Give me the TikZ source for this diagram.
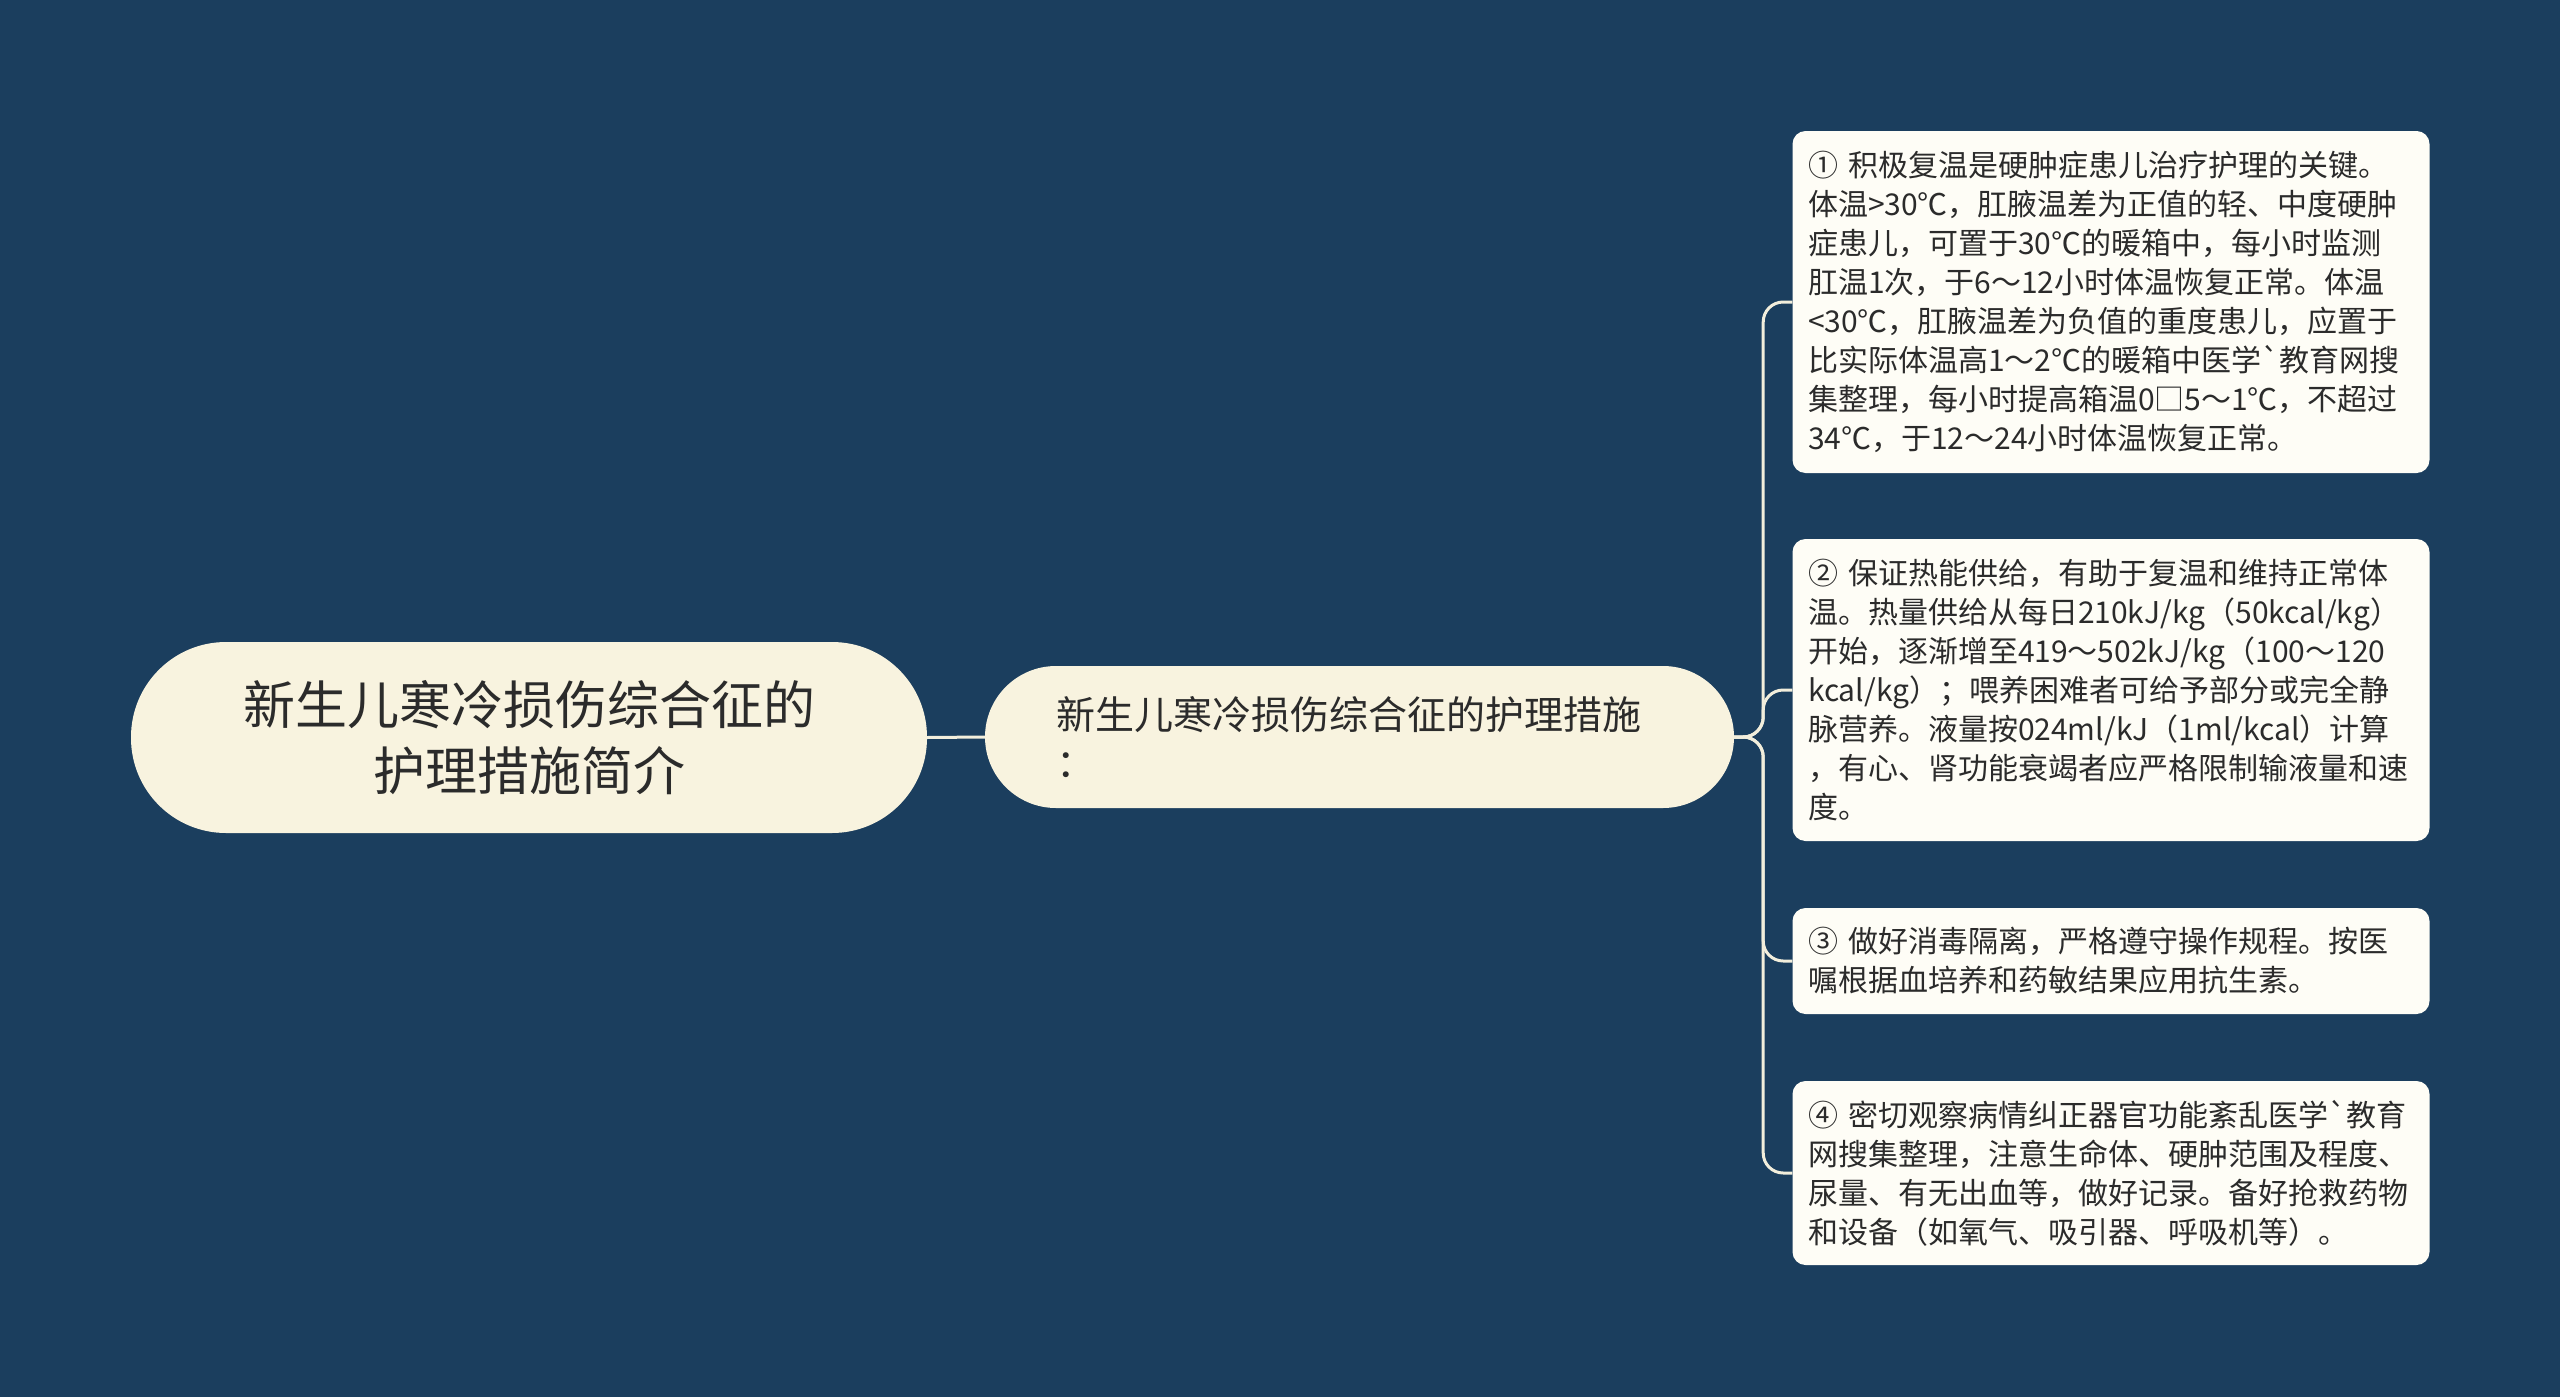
\documentclass[tikz,border=0pt]{standalone}
\usepackage{fontspec}
\setmainfont{Noto Sans CJK SC}[Ligatures=TeXOff]
\definecolor{bg}{HTML}{1B3E5E}
\definecolor{cream}{HTML}{F8F3DF}
\definecolor{paper}{HTML}{FEFDF6}
\definecolor{ink}{HTML}{2B2B2B}
\definecolor{wire}{HTML}{F2EEDC}
\begin{document}
\begin{tikzpicture}[x=1pt,y=-1pt,
  rootbox/.style={fill=cream, rounded corners=95pt, minimum width=796pt, minimum height=191pt,
    inner sep=0pt, text width=700pt, align=center, font=\fontsize{52}{66}\selectfont, text=ink},
  midbox/.style={fill=cream, rounded corners=71pt, minimum height=142pt, inner xsep=71pt, inner ysep=0pt,
    text width=607pt, align=left, font=\fontsize{39}{48}\selectfont, text=ink},
  leafbox/.style={fill=paper, rounded corners=13pt, inner xsep=15.5pt, inner ysep=0pt,
    text width=606pt, align=left, font=\fontsize{30}{39}\selectfont, text=ink},
  wireline/.style={draw=wire, line width=3pt, rounded corners=20pt}]
\fill[bg] (0,0) rectangle (2560,1397);
\useasboundingbox (0,0) rectangle (2560,1397);

\node[rootbox] (root) at (529,737.5) {新生儿寒冷损伤综合征的\\护理措施简介};
\node[midbox] (mid) at (1359.5,737) {新生儿寒冷损伤综合征的护理措施\\：};

\node[leafbox, minimum height=342pt] (c1) at (2111,302) {①~积极复温是硬肿症患儿治疗护理的关键。\\体温>30℃，肛腋温差为正值的轻、中度硬肿\\症患儿，可置于30℃的暖箱中，每小时监测\\肛温1次，于6～12小时体温恢复正常。体温\\<30℃，肛腋温差为负值的重度患儿，应置于\\比实际体温高1～2℃的暖箱中医学`教育网搜\\集整理，每小时提高箱温0□5～1℃，不超过\\34℃，于12～24小时体温恢复正常。};
\node[leafbox, minimum height=302pt] (c2) at (2111,690) {②~保证热能供给，有助于复温和维持正常体\\温。热量供给从每日210kJ/kg（50kcal/kg）\\开始，逐渐增至419～502kJ/kg（100～120\\kcal/kg）；喂养困难者可给予部分或完全静\\脉营养。液量按024ml/kJ（1ml/kcal）计算\\，有心、肾功能衰竭者应严格限制输液量和速\\度。};
\node[leafbox, minimum height=106pt] (c3) at (2111,961) {③~做好消毒隔离，严格遵守操作规程。按医\\嘱根据血培养和药敏结果应用抗生素。};
\node[leafbox, minimum height=184pt] (c4) at (2111,1173) {④~密切观察病情纠正器官功能紊乱医学`教育\\网搜集整理，注意生命体、硬肿范围及程度、\\尿量、有无出血等，做好记录。备好抢救药物\\和设备（如氧气、吸引器、呼吸机等）。};

\draw[wireline] (root.east) -- (mid.west);
\draw[wireline] (mid.east) -- ++(29,0) |- (c1.west);
\draw[wireline] (mid.east) -- ++(29,0) |- (c2.west);
\draw[wireline] (mid.east) -- ++(29,0) |- (c3.west);
\draw[wireline] (mid.east) -- ++(29,0) |- (c4.west);
\end{tikzpicture}
\end{document}
